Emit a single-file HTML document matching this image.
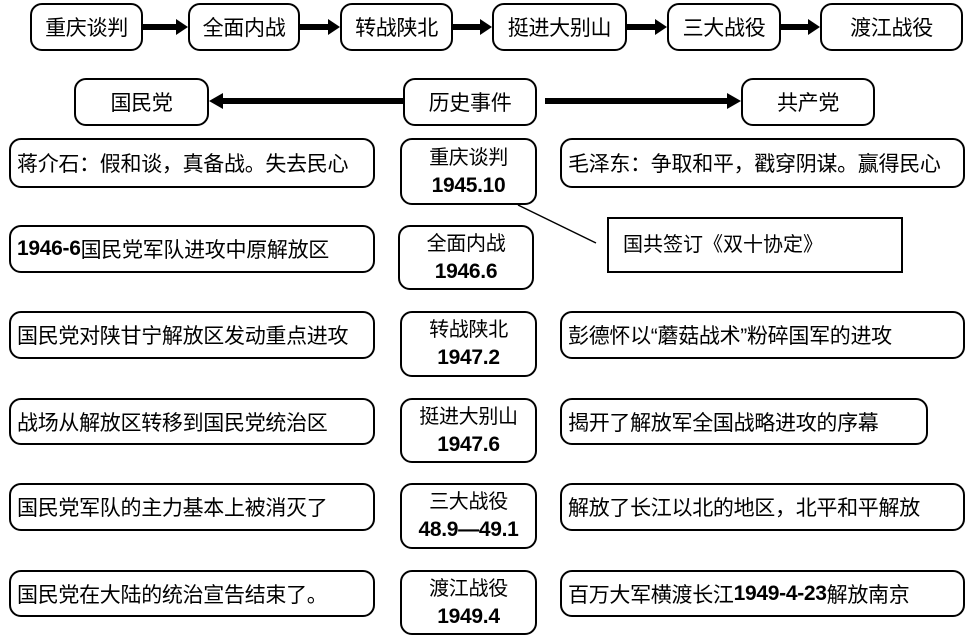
<!DOCTYPE html>
<html><head><meta charset="utf-8"><style>
body{margin:0;width:975px;height:637px;background:#fff;position:relative;overflow:hidden;font-family:"Liberation Sans","Noto Sans CJK SC",sans-serif;}
.b{position:absolute;border:2px solid #000;border-radius:12px;box-sizing:border-box;display:flex;align-items:center;font-size:21px;color:#000;background:#fff;white-space:nowrap;letter-spacing:-0.3px}
.c{justify-content:center;text-align:center}
.l{padding-left:6px}
.m{flex-direction:column;justify-content:center;line-height:27px;font-size:20px}
.m b{font-size:21px}
.ar{position:absolute;height:6px;background:#000}
.hd{position:absolute;width:0;height:0;border-top:8px solid transparent;border-bottom:8px solid transparent}
</style></head><body>
<div class="b c" style="left:30px;top:3px;width:113px;height:48px">重庆谈判</div>
<div class="b c" style="left:188px;top:3px;width:112px;height:48px">全面内战</div>
<div class="b c" style="left:340px;top:3px;width:113px;height:48px">转战陕北</div>
<div class="b c" style="left:492px;top:3px;width:135px;height:48px">挺进大别山</div>
<div class="b c" style="left:667px;top:3px;width:114px;height:48px">三大战役</div>
<div class="b c" style="left:820px;top:3px;width:143px;height:48px">渡江战役</div>
<div class="ar" style="left:143px;top:24px;width:35px"></div><div class="hd" style="left:176px;top:19px;border-left:12px solid #000"></div>
<div class="ar" style="left:300px;top:24px;width:30px"></div><div class="hd" style="left:328px;top:19px;border-left:12px solid #000"></div>
<div class="ar" style="left:453px;top:24px;width:29px"></div><div class="hd" style="left:480px;top:19px;border-left:12px solid #000"></div>
<div class="ar" style="left:627px;top:24px;width:30px"></div><div class="hd" style="left:655px;top:19px;border-left:12px solid #000"></div>
<div class="ar" style="left:781px;top:24px;width:29px"></div><div class="hd" style="left:808px;top:19px;border-left:12px solid #000"></div>

<div class="b c" style="left:74px;top:78px;width:135px;height:48px">国民党</div>
<div class="b c" style="left:403px;top:78px;width:134px;height:48px">历史事件</div>
<div class="b c" style="left:741px;top:78px;width:134px;height:48px">共产党</div>
<div class="ar" style="left:222px;top:98px;width:181px"></div><div class="hd" style="left:209px;top:93px;border-right:14px solid #000"></div>
<div class="ar" style="left:545px;top:98px;width:183px"></div><div class="hd" style="left:727px;top:93px;border-left:14px solid #000"></div>

<div class="b l" style="left:9px;top:138px;width:366px;height:50px">蒋介石：假和谈，真备战。失去民心</div>
<div class="b c m" style="left:400px;top:138px;width:137px;height:67px"><span>重庆谈判</span><b>1945.10</b></div>
<div class="b l" style="left:560px;top:138px;width:405px;height:50px">毛泽东：争取和平，戳穿阴谋。赢得民心</div>
<svg style="position:absolute;left:0;top:0" width="975" height="637"><line x1="518" y1="205" x2="596" y2="243" stroke="#000" stroke-width="1.5"/></svg>
<div style="position:absolute;left:607px;top:217px;width:296px;height:56px;border:2px solid #000;box-sizing:border-box;font-size:20px;padding:9px 0 0 14px;white-space:nowrap">国共签订《双十协定》</div>

<div class="b l" style="left:9px;top:225px;width:366px;height:48px"><b>1946-6</b>国民党军队进攻中原解放区</div>
<div class="b c m" style="left:398px;top:225px;width:136px;height:65px"><span>全面内战</span><b>1946.6</b></div>

<div class="b l" style="left:9px;top:311px;width:366px;height:48px">国民党对陕甘宁解放区发动重点进攻</div>
<div class="b c m" style="left:400px;top:311px;width:137px;height:66px"><span>转战陕北</span><b>1947.2</b></div>
<div class="b l" style="left:560px;top:311px;width:405px;height:48px">彭德怀以“蘑菇战术”粉碎国军的进攻</div>

<div class="b l" style="left:9px;top:398px;width:366px;height:47px">战场从解放区转移到国民党统治区</div>
<div class="b c m" style="left:400px;top:398px;width:137px;height:65px"><span>挺进大别山</span><b>1947.6</b></div>
<div class="b l" style="left:560px;top:398px;width:368px;height:47px">揭开了解放军全国战略进攻的序幕</div>

<div class="b l" style="left:9px;top:483px;width:366px;height:48px">国民党军队的主力基本上被消灭了</div>
<div class="b c m" style="left:400px;top:483px;width:137px;height:66px"><span>三大战役</span><b>48.9—49.1</b></div>
<div class="b l" style="left:560px;top:483px;width:405px;height:48px">解放了长江以北的地区，北平和平解放</div>

<div class="b l" style="left:9px;top:570px;width:366px;height:47px">国民党在大陆的统治宣告结束了。</div>
<div class="b c m" style="left:400px;top:570px;width:137px;height:65px"><span>渡江战役</span><b>1949.4</b></div>
<div class="b l" style="left:560px;top:570px;width:405px;height:47px">百万大军横渡长江<b>1949-4-23</b>解放南京</div>
</body></html>
